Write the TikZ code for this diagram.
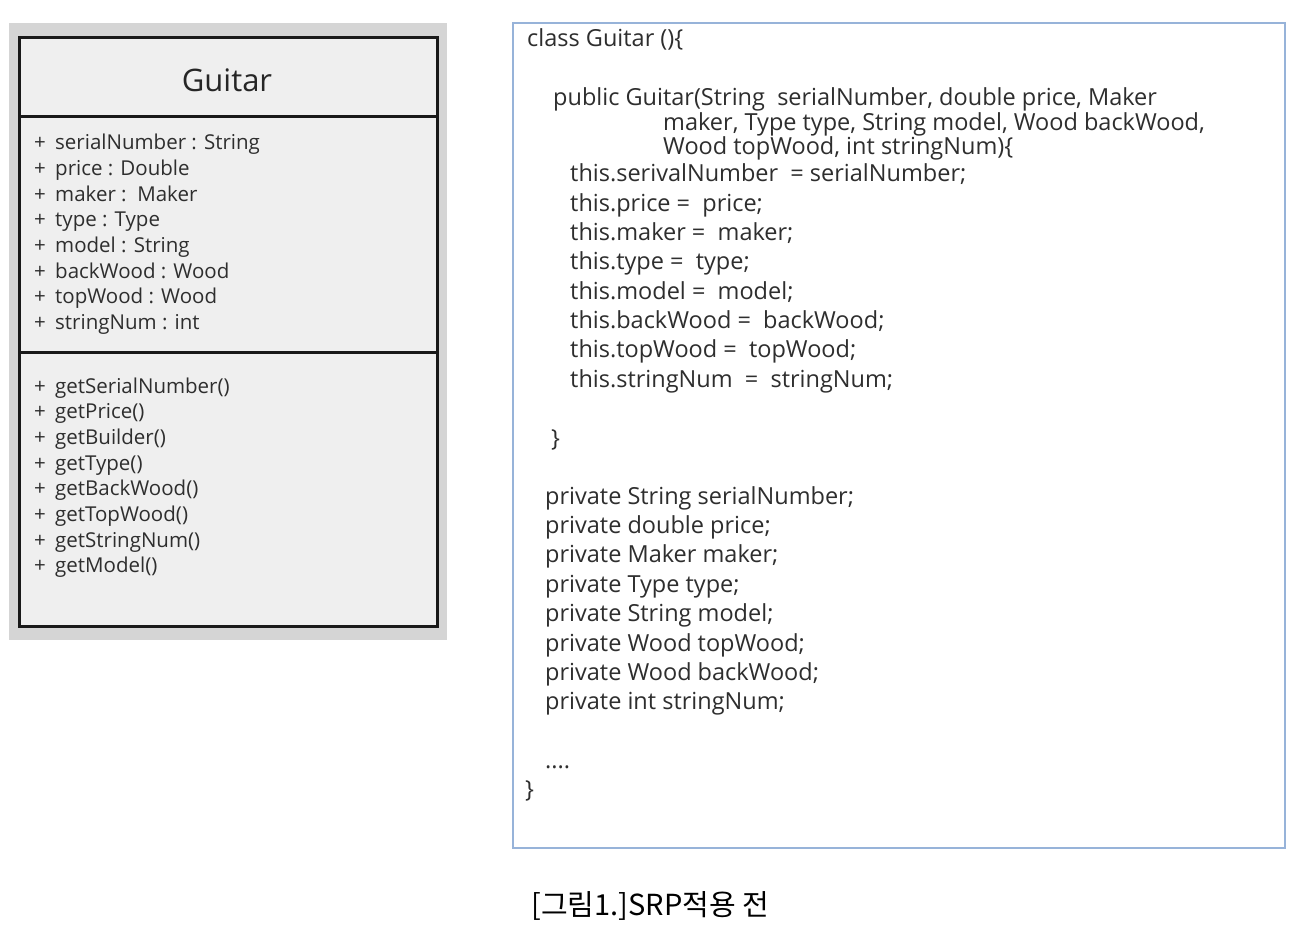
\documentclass[tikz,border=0pt]{standalone}
\usepackage{fontspec}
\setmainfont{Open Sans}
\newfontfamily\cjkfont{Noto Sans CJK KR}
\definecolor{txt}{HTML}{2E2E2E}
\definecolor{umlbg}{HTML}{D5D5D5}
\definecolor{umlfill}{HTML}{EFEFEF}
\definecolor{codeborder}{HTML}{97B3D9}
\tikzset{
  attr/.style={anchor=base west, inner sep=0pt, text=txt, font=\fontsize{20.5}{22}\selectfont},
  code/.style={anchor=base west, inner sep=0pt, text=txt, font=\fontsize{23.5}{26}\selectfont},
  priv/.style={code},
  umlline/.style={line width=3pt, black!90},
}
\begin{document}
\begin{tikzpicture}[x=1pt,y=-1pt]
\useasboundingbox (0,0) rectangle (1306,944);
% UML class box
\fill[umlbg] (9,23) rectangle (447,640);
\fill[umlfill] (19,38) rectangle (437,626);
\draw[umlline] (19,38) rectangle (437,626);
\draw[umlline] (19,117) -- (437,117);
\draw[umlline] (19,352) -- (437,352);
\node[anchor=base, inner sep=0pt, text=black!85, font=\fontsize{31}{34}\selectfont] (title) at (227,92) {Guitar};
\foreach \t [count=\i from 0] in {serialNumber : String, price : Double, maker :\ \ Maker, type : Type, model : String, backWood : Wood, topWood : Wood, stringNum : int}{
  \node[attr] (ap\i) at (34,150+25.6*\i) {+};
  \node[attr] (a\i) at (55,150+25.6*\i) {\t};
}
\foreach \t [count=\i from 0] in {getSerialNumber(), getPrice(), getBuilder(), getType(), getBackWood(), getTopWood(), getStringNum(), getModel()}{
  \node[attr] (mp\i) at (34,393+25.7*\i) {+};
  \node[attr] (m\i) at (55,393+25.7*\i) {\t};
}
% code box
\draw[codeborder, line width=1.5pt, fill=white] (513,23) rectangle (1285,848);
\node[code] (c0) at (527,47) {class Guitar ()\{};
\node[code] (c1) at (553,106) {public Guitar(String\ \ serialNumber,\ double price, Maker};
\node[code] (c2) at (663,130.5) {maker, Type type, String model, Wood backWood,};
\node[code] (c3) at (663,154.5) {Wood topWood, int stringNum)\{};
\foreach \t [count=\i from 0] in {this.serivalNumber\ \ = serialNumber;, this.price = \ price;, this.maker = \ maker;, this.type = \ type;, this.model = \ model;, this.backWood = \ backWood;, this.topWood = \ topWood;, this.stringNum\ \ = \ stringNum;}{
  \node[code] (t\i) at (570,182+29.3*\i) {\t};
}
\node[code] (cb1) at (551,446) {\}};
\foreach \t [count=\i from 0] in {private String serialNumber;, private double price;, private Maker maker;, private Type type;, private String model;, private Wood topWood;, private Wood backWood;, private int stringNum;}{
  \node[priv] (p\i) at (545,504+29.4*\i) {\t};
}
\node[code] (dots) at (545,768) {....};
\node[code] (cb2) at (525,797) {\}};
% caption
\node[anchor=base west, inner sep=0pt, text=black, font=\cjkfont\fontsize{29}{32}\selectfont] (cap) at (531,915) {[그림1.]SRP적용 전};
\end{tikzpicture}
\end{document}
